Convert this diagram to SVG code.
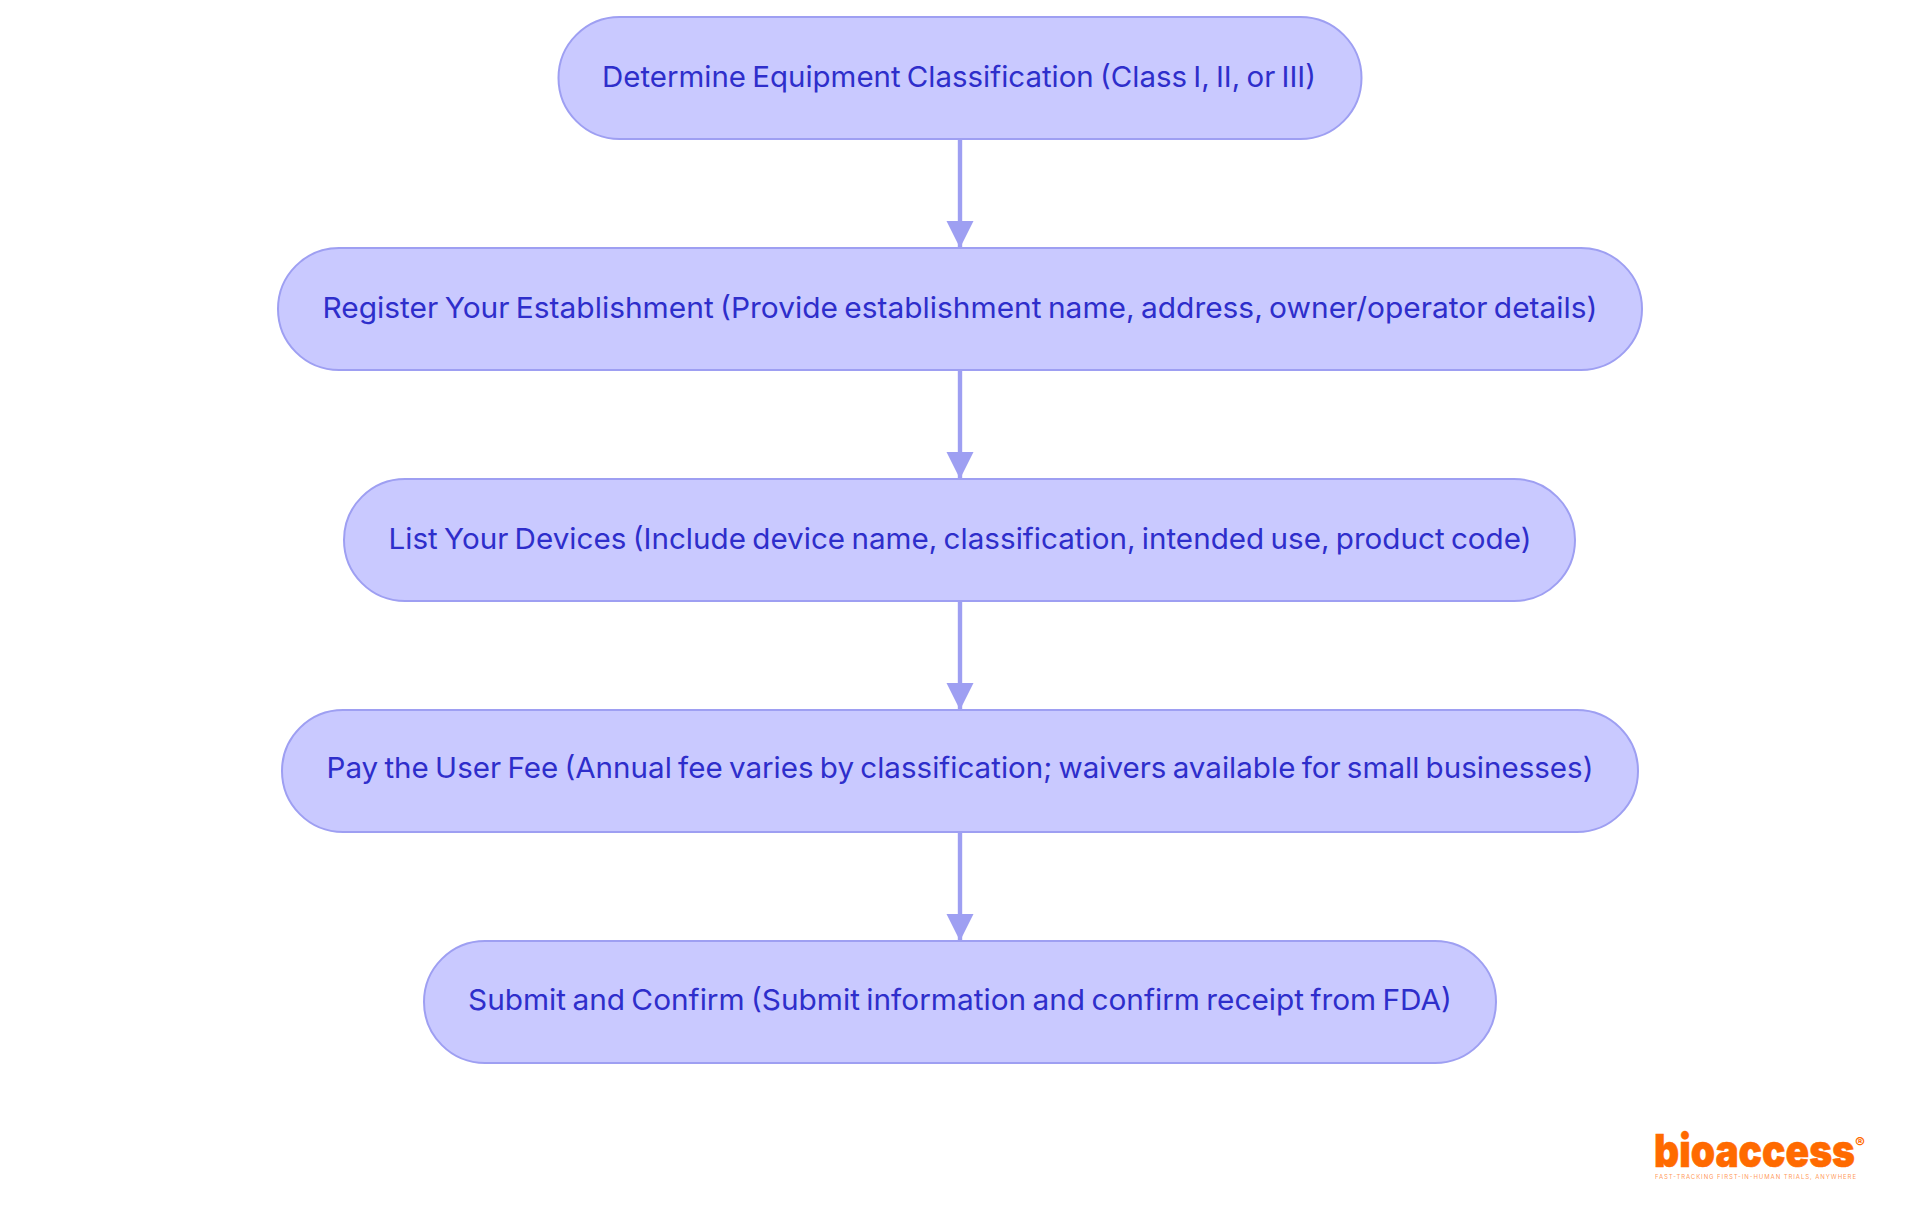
<svg xmlns="http://www.w3.org/2000/svg" width="1920" height="1215" viewBox="0 0 1920 1215">
<style>
.n{fill:#c9c9ff;stroke:#9e9ff2;stroke-width:2}
.t{font-family:Inter,"Noto Sans",sans-serif;font-size:29px;word-spacing:-2px;fill:#2e2ecb;text-anchor:middle}
.c{stroke:#9e9ff2;stroke-width:4.400;fill:none;marker-end:url(#a)}
.l{font-family:Inter,"Liberation Sans",sans-serif;fill:#ff6a00}
</style>
<defs><marker id="a" markerUnits="userSpaceOnUse" markerWidth="28" markerHeight="28" refX="27" refY="14" orient="auto"><path d="M0 0.500L27 14L0 27.500Z" fill="#9e9ff2"/></marker></defs>
<rect width="1920" height="1215" fill="#fff"/>
<g id="connectors">
<path class="c" d="M960 139V248"/>
<path class="c" d="M960 370V479"/>
<path class="c" d="M960 601V710"/>
<path class="c" d="M960 832V941"/>
</g>
<g id="n1"><rect class="n" x="558.500" y="17" width="803" height="122" rx="61"/><text class="t" x="959" y="87" textLength="714" lengthAdjust="spacingAndGlyphs">Determine Equipment Classification (Class I, II, or III)</text></g>
<g id="n2"><rect class="n" x="278" y="248" width="1364" height="122" rx="61"/><text class="t" x="960" y="318" textLength="1275" lengthAdjust="spacingAndGlyphs">Register Your Establishment (Provide establishment name, address, owner/operator details)</text></g>
<g id="n3"><rect class="n" x="344" y="479" width="1231" height="122" rx="61"/><text class="t" x="960" y="549" textLength="1143" lengthAdjust="spacingAndGlyphs">List Your Devices (Include device name, classification, intended use, product code)</text></g>
<g id="n4"><rect class="n" x="282" y="710" width="1356" height="122" rx="61"/><text class="t" x="960" y="778" textLength="1267" lengthAdjust="spacingAndGlyphs">Pay the User Fee (Annual fee varies by classification; waivers available for small businesses)</text></g>
<g id="n5"><rect class="n" x="424" y="941" width="1072" height="122" rx="61"/><text class="t" x="960" y="1010" textLength="984" lengthAdjust="spacingAndGlyphs">Submit and Confirm (Submit information and confirm receipt from FDA)</text></g>
<g id="logo">
<text class="l" x="1654" y="1167" font-size="46" font-weight="900" stroke="#ff6a00" stroke-width=".6" textLength="201" lengthAdjust="spacingAndGlyphs">bioaccess</text>
<text class="l" x="1855" y="1148" font-size="15" font-weight="700">®</text>
<text class="l" x="1655" y="1179" font-size="6" font-weight="400" textLength="201" fill-opacity=".7">FAST-TRACKING FIRST-IN-HUMAN TRIALS, ANYWHERE</text>
</g>
</svg>
